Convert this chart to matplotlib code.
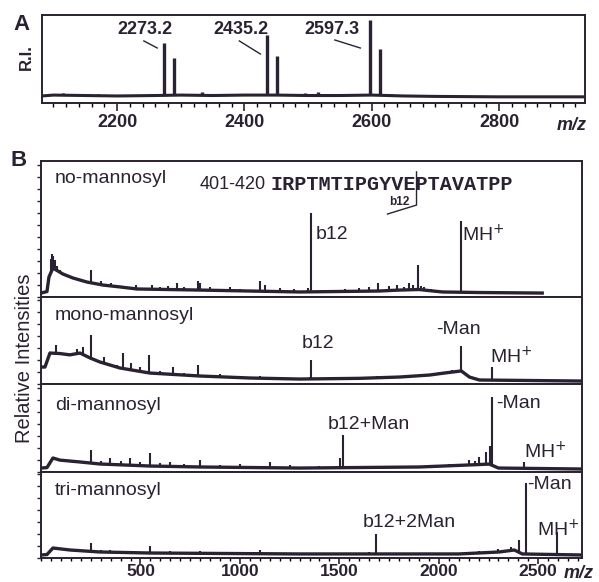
import numpy as np
import matplotlib
matplotlib.use("Agg")
import matplotlib.pyplot as plt
from matplotlib.ticker import MultipleLocator, NullFormatter

# --- CONSTANTS ---
INK = "#2a2132"
W, H = 599, 582
plt.rcParams["font.family"] = ["Liberation Sans", "DejaVu Sans"]

# --- DATA: panel A (m/z 2080-2935, relative intensity 0-100) ---
A_BASE_MZ = [2082, 2100, 2150, 2200, 2260, 2300, 2350, 2400, 2450, 2500, 2550, 2600, 2650, 2700, 2800, 2935]
A_BASE_Y = [8, 9, 8.5, 8, 8.5, 9, 8.5, 9, 9, 8.5, 8.5, 9, 8, 7.5, 7, 7]
A_PEAK_MZ = [2273.2, 2289, 2435.2, 2451, 2597.3, 2613, 2333, 2495, 2515, 2390, 2115, 2630, 2170, 2560]
A_PEAK_Y = [68, 51, 77, 53, 94, 61, 12, 11, 12, 10, 11, 10, 10, 10.5]
A_LABELS = ["2273.2", "2435.2", "2597.3"]
A_LABEL_MZ = [2200, 2351, 2494]
A_LEAD_MZ = [(2242, 2263), (2392, 2425), (2542, 2582)]
A_LEAD_Y = [(70.5, 62.5), (70.5, 55.7), (71.6, 62.5)]
A_TICKS = [2200, 2400, 2600, 2800]

# --- DATA: panel B, four stacked spectra (m/z 0-2720) ---
NAMES = ["no-mannosyl", "mono-mannosyl", "di-mannosyl", "tri-mannosyl"]
NAME_Y = [86.8, 79.3, 75, 79]

BASE1_MZ = [0, 30, 40, 60, 110, 160, 231, 311, 397, 482, 798, 1300, 1700, 1802, 1900, 2018, 2200, 2520]
BASE1_Y = [2.9, 4, 14.7, 21.3, 16.9, 14, 11, 8.8, 7.4, 5.9, 5.1, 3.7, 4.4, 5.1, 5.5, 3.7, 3.3, 2.9]
PEAK1_MZ = [50, 55, 62, 68, 80, 95, 150, 251, 300, 350, 422, 480, 557, 600, 640, 683, 720,
            788, 800, 850, 950, 1000, 1100, 1125, 1200, 1270, 1340, 1359, 1450, 1530, 1600,
            1650, 1692, 1752, 1790, 1827, 1852, 1870, 1893, 1910, 1928, 1960, 2111, 2200, 2350]
PEAK1_Y = [28, 31.6, 30, 27, 23, 20, 15, 19.9, 12, 10, 8, 9, 8.8, 7, 8, 10.3, 7,
           11.8, 10, 7, 7, 6, 11.8, 9, 6.5, 6, 6.6, 61.8, 5.5, 6, 6.5,
           7.5, 10.3, 8, 9, 7, 10, 9, 23.5, 8, 7, 6, 55.9, 4.5, 4]

BASE2_MZ = [0, 20, 45, 95, 145, 196, 246, 296, 397, 547, 798, 1049, 1300, 1600, 1802, 1953,
            2028, 2113, 2154, 2204, 2716]
BASE2_Y = [19.5, 19.5, 35.6, 35, 33.5, 35.6, 30, 25.3, 18.4, 12.6, 9.2, 6.9, 5.7, 6.5, 8, 10.3,
           12.6, 15, 8, 4.6, 3.4]
PEAK2_MZ = [75, 180, 211, 251, 316, 380, 412, 450, 500, 542, 600, 663, 720, 788, 900, 1000,
            1100, 1200, 1350, 1359, 1500, 1690, 1850, 1950, 2000, 2028, 2068, 2088, 2113, 2269]
PEAK2_Y = [44.8, 40, 42.5, 56.3, 31, 22, 35.6, 24, 20, 33.3, 15, 19.5, 13, 21.8, 11, 9,
           9, 8, 8, 27.6, 8, 9, 10, 12, 14, 13.8, 16, 15.5, 43.7, 19.5]

BASE3_MZ = [0, 30, 60, 95, 196, 296, 547, 798, 1300, 1903, 2154, 2254, 2300, 2716]
BASE3_Y = [4.5, 5, 15.9, 13.5, 11.4, 9.1, 6.8, 5.7, 4.5, 5.7, 8, 9, 4.5, 3.4]
PEAK3_MZ = [200, 251, 300, 346, 400, 447, 500, 547, 600, 650, 720, 798, 900, 1000, 1150,
            1250, 1400, 1501, 1516, 2050, 2100, 2154, 2180, 2204, 2239, 2255, 2269, 2430]
PEAK3_Y = [11, 25, 12, 15.9, 12, 15.9, 11, 21.6, 10, 11, 9, 13.6, 8, 9, 11.4,
           8, 7, 15.9, 42, 9, 9, 13.6, 12, 17, 22.7, 30, 85.2, 11.4]

BASE4_MZ = [0, 30, 60, 146, 296, 547, 1300, 2100, 2304, 2380, 2420, 2716]
BASE4_Y = [3.5, 4, 11.6, 9.3, 7, 5.8, 4.7, 4.7, 7, 9.3, 4.7, 3.5]
PEAK4_MZ = [200, 251, 300, 346, 450, 547, 650, 800, 900, 1100, 1300, 1650, 1683, 2200,
            2300, 2364, 2405, 2440, 2595]
PEAK4_Y = [9, 17.4, 9, 9, 8, 14, 8, 8, 7, 9, 6, 7, 28, 8,
           11, 12.8, 21, 87.2, 30.2]

# peak annotations: (text, m/z, y)
ANNOT1 = [("b12", 1380, 45.6), ("MH$^{+}$", 2118, 45.6)]
ANNOT2 = [("b12", 1310, 47), ("-Man", 1988, 63.2), ("MH$^{+}$", 2259, 31)]
ANNOT3 = [("b12+Man", 1441, 54.5), ("-Man", 2289, 77.3), ("MH$^{+}$", 2430, 22.7)]
ANNOT4 = [("b12+2Man", 1616, 40.7), ("-Man", 2445, 84.9), ("MH$^{+}$", 2495, 32.6)]
B_TICKS = [500, 1000, 1500, 2000, 2500]

SEQ_RANGE = "401-420"
SEQUENCE = "IRPTMTIPGYVEPTAVATPP"


# --- FUNCTIONS ---
def frac(px_x, px_y):
    return px_x / W, 1 - px_y / H


def draw_spectrum(ax, base_mz, base_y, peak_mz, peak_y, base_lw, peak_lw):
    ax.plot(base_mz, base_y, color=INK, lw=base_lw, solid_joinstyle="round")
    bottoms = np.interp(peak_mz, base_mz, base_y)
    ax.vlines(peak_mz, bottoms, peak_y, color=INK, lw=peak_lw)


def style_axis(ax):
    for s in ax.spines.values():
        s.set_color(INK)
        s.set_linewidth(1.4)
    ax.tick_params(colors=INK, direction="out")


fig = plt.figure(figsize=(W / 100, H / 100), dpi=100)

# --- panel A ---
axA = fig.add_axes([42 / W, 1 - 103 / H, (585 - 42) / W, (103 - 15) / H])
draw_spectrum(axA, A_BASE_MZ, A_BASE_Y, A_PEAK_MZ, A_PEAK_Y, 2.2, 2.4)
axA.set_xlim(2082, 2935)
axA.set_ylim(0, 100)
axA.set_yticks([])
axA.set_xticks(A_TICKS)
axA.xaxis.set_minor_locator(MultipleLocator(20))
style_axis(axA)
axA.tick_params(axis="x", which="major", length=6, width=1.2, pad=2)
axA.tick_params(axis="x", which="minor", length=3, width=1)
for lab in axA.get_xticklabels():
    lab.set_fontsize(13)
    lab.set_fontweight("bold")
for txt, mz in zip(A_LABELS, A_LABEL_MZ):
    axA.text(mz, 84, txt, fontsize=13, fontweight="bold", color=INK, ha="left", va="center")
for xs, ys in zip(A_LEAD_MZ, A_LEAD_Y):
    axA.plot(xs, ys, color=INK, lw=1)

x, y = frac(22, 24)
fig.text(x, y, "A", fontsize=16, fontweight="bold", color=INK, ha="center", va="center")
x, y = frac(26, 57)
fig.text(x, y, "R.I.", fontsize=12, fontweight="bold", color=INK, rotation=90, ha="center", va="center")
x, y = frac(572, 125)
fig.text(x, y, "m/z", fontsize=13, fontweight="bold", style="italic", color=INK, ha="center", va="center")

# --- panel B ---
edges = [161, 297, 384, 472, 558]
bases = [(BASE1_MZ, BASE1_Y), (BASE2_MZ, BASE2_Y), (BASE3_MZ, BASE3_Y), (BASE4_MZ, BASE4_Y)]
peaks = [(PEAK1_MZ, PEAK1_Y), (PEAK2_MZ, PEAK2_Y), (PEAK3_MZ, PEAK3_Y), (PEAK4_MZ, PEAK4_Y)]
annots = [ANNOT1, ANNOT2, ANNOT3, ANNOT4]
axes_b = []
for i in range(4):
    top, bot = edges[i], edges[i + 1]
    ax = fig.add_axes([41 / W, 1 - bot / H, (582 - 41) / W, (bot - top) / H])
    draw_spectrum(ax, bases[i][0], bases[i][1], peaks[i][0], peaks[i][1], 2.4, 1.5)
    ax.set_xlim(0, 2720)
    ax.set_ylim(0, 100)
    style_axis(ax)
    ax.yaxis.set_major_locator(MultipleLocator(100 * 12 / (bot - top)))
    ax.yaxis.set_major_formatter(NullFormatter())
    ax.tick_params(axis="y", length=3, width=1)
    ax.text(70, NAME_Y[i], NAMES[i], fontsize=14, color=INK, ha="left", va="center")
    for txt, mz, yy in annots[i]:
        ax.text(mz, yy, txt, fontsize=14, color=INK, ha="left", va="center")
    if i < 3:
        ax.set_xticks([])
    else:
        ax.set_xticks(B_TICKS)
        ax.xaxis.set_minor_locator(MultipleLocator(50))
        ax.tick_params(axis="x", which="major", length=4, width=1.2, pad=0.5)
        ax.tick_params(axis="x", which="minor", length=2.5, width=1)
        for lab in ax.get_xticklabels():
            lab.set_fontsize(12.5)
            lab.set_fontweight("bold")
    axes_b.append(ax)

# peptide sequence with b12 cleavage mark
ax1 = axes_b[0]
ax1.text(798, 83, SEQ_RANGE, fontsize=13, color=INK, ha="left", va="center")
ax1.text(1155, 83, SEQUENCE, fontsize=14.5, fontweight="bold", color=INK, ha="left", va="center",
         family=["Liberation Mono", "DejaVu Sans Mono"])
ax1.plot([1888, 1888, 1742], [92, 67.6, 61], color=INK, lw=1)
ax1.text(1802, 70, "b12", fontsize=8.5, fontweight="bold", color=INK, ha="center", va="center")

x, y = frac(19, 160)
fig.text(x, y, "B", fontsize=16, fontweight="bold", color=INK, ha="center", va="center")
x, y = frac(25, 358)
fig.text(x, y, "Relative Intensities", fontsize=14.5, color=INK, rotation=90, ha="center", va="center")
x, y = frac(579, 573)
fig.text(x, y, "m/z", fontsize=13, fontweight="bold", style="italic", color=INK, ha="center", va="center")

fig.savefig("out.png", dpi=100)
